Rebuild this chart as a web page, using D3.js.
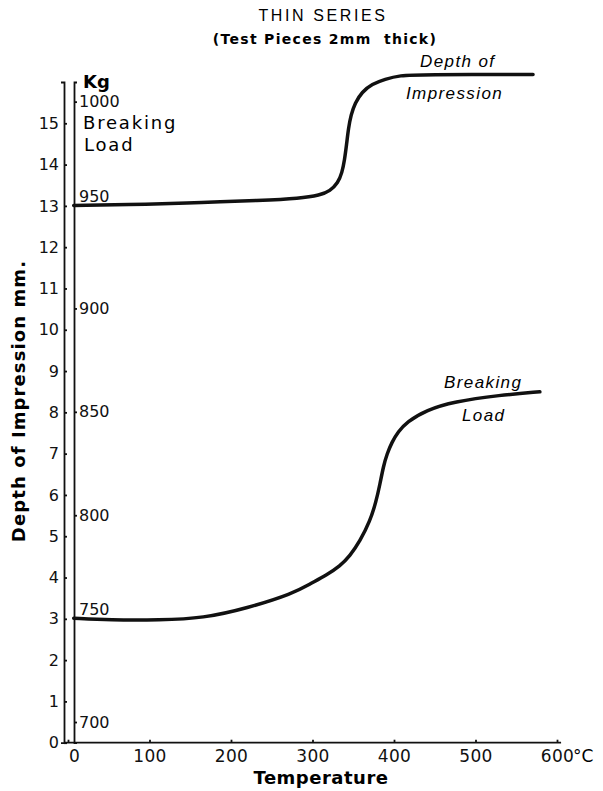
<!DOCTYPE html>
<html>
<head>
<meta charset="utf-8">
<script src="https://cdn.jsdelivr.net/npm/d3@7"></script>
<style>
  body { margin: 0; background: #fff; }
  svg { display: block; }
  .tick text { font-family: "DejaVu Sans", sans-serif; font-size: 16px; fill: #111; }
  .tick line, .domain { stroke: #111; stroke-width: 1.8; }
</style>
</head>
<body>
<figure id="chart" style="margin:0"></figure>
<script>
// temperature (deg C)
const depthTemps  = [7, 100.6, 162, 235.6, 284.7, 309.2, 321.5, 331.3, 336.2, 339.3, 341.7, 344.2, 347.2, 352.1, 360.7, 373, 388.9, 407.4, 431.9, 570.6];
const depthValues = [13.01, 13.04, 13.08, 13.13, 13.18, 13.26, 13.36, 13.56, 13.80, 14.11, 14.47, 14.89, 15.20, 15.49, 15.76, 15.95, 16.07, 16.16, 16.18, 16.18];

const loadTemps  = [7, 51.5, 112.9, 166, 219.3, 276.4, 296.9, 317.4, 333.7, 346, 358.3, 370.6, 377.9, 382.8, 387.1, 391.4, 397.5, 404.9, 415.6, 440.1, 472.8, 530, 579];
const loadValues = [750.2, 749.3, 749.3, 750.2, 755, 762.2, 766.8, 771.1, 775.4, 780.3, 787.5, 797.2, 806.4, 815.1, 823.8, 829.6, 835.4, 840.2, 845.1, 850.9, 854.9, 858.1, 859.7];

const tempTicks  = [0, 100, 200, 300, 400, 500, 600];
const depthTicks = [0, 1, 2, 3, 4, 5, 6, 7, 8, 9, 10, 11, 12, 13, 14, 15];
const loadTicks  = [700, 750, 800, 850, 900, 950, 1000];

let dims = { width: 603, height: 791, top: 82, bottom: 742.7, depthX: 64, loadX: 74 };

const svg = d3.select("#chart").append("svg")
    .attr("width", dims.width)
    .attr("height", dims.height);

const xScale = d3.scaleLinear().domain([0, 600]).range([68, 557]);
const yDepth = d3.scaleLinear().domain([0, 16]).range([dims.bottom, dims.top]);
const yLoad  = d3.scaleLinear().domain([690, 1009.5]).range([dims.bottom, dims.top]);

// titles
svg.append("text")
    .attr("x", 323).attr("y", 21)
    .attr("text-anchor", "middle")
    .style("font-family", "Liberation Sans, sans-serif")
    .style("font-size", "16px")
    .style("letter-spacing", "2.6px")
    .text("THIN SERIES");

svg.append("text")
    .attr("x", 325).attr("y", 44)
    .attr("text-anchor", "middle")
    .style("font-family", "DejaVu Sans, sans-serif")
    .style("font-weight", "bold")
    .style("font-size", "14px")
    .style("letter-spacing", "1.3px")
    .style("white-space", "pre")
    .text("(Test Pieces 2mm  thick)");

// x axis line
svg.append("line")
    .attr("x1", dims.depthX).attr("x2", xScale(605))
    .attr("y1", dims.bottom).attr("y2", dims.bottom)
    .attr("stroke", "#111").attr("stroke-width", 1.8);

const xAxis = svg.append("g")
    .attr("transform", `translate(0, ${dims.bottom})`)
    .call(d3.axisBottom(xScale).tickValues(tempTicks).tickSizeInner(-3).tickSizeOuter(0).tickPadding(7));
xAxis.select(".domain").remove();
xAxis.selectAll(".tick text").style("font-size", "17px").style("letter-spacing", "0.3px");
xAxis.selectAll(".tick").filter(d => d === 0).select("text").attr("dx", 6);

svg.append("text")
    .attr("x", xScale(600) + 16).attr("y", dims.bottom + 19.5)
    .style("font-family", "DejaVu Sans, sans-serif")
    .style("font-size", "17px")
    .text("°C");

svg.append("text")
    .attr("x", 321).attr("y", 784)
    .attr("text-anchor", "middle")
    .style("font-family", "DejaVu Sans, sans-serif")
    .style("font-weight", "bold")
    .style("font-size", "18px")
    .style("letter-spacing", "0.5px")
    .text("Temperature");

// depth axis
svg.append("g")
    .attr("transform", `translate(${dims.depthX}, 0)`)
    .call(d3.axisLeft(yDepth).tickValues(depthTicks).tickSizeInner(-3).tickSizeOuter(3).tickPadding(5));

svg.append("text")
    .attr("transform", `translate(25, 401) rotate(-90)`)
    .attr("text-anchor", "middle")
    .style("font-family", "DejaVu Sans, sans-serif")
    .style("font-weight", "bold")
    .style("font-size", "18px")
    .style("letter-spacing", "1.1px")
    .text("Depth of Impression mm.");

// load axis
const loadAxis = svg.append("g")
    .attr("transform", `translate(${dims.loadX}, 0)`)
    .call(d3.axisRight(yLoad).tickValues(loadTicks).tickFormat(d3.format("d"))
        .tickSizeInner(3).tickSizeOuter(3).tickPadding(2));
loadAxis.selectAll(".tick").filter(d => d === 950 || d === 750).select("text").attr("dy", "-0.25em");

svg.append("text")
    .attr("x", 83).attr("y", 88)
    .style("font-family", "DejaVu Sans, sans-serif")
    .style("font-weight", "bold")
    .style("font-size", "18px")
    .text("Kg");

svg.append("text")
    .attr("x", 83).attr("y", 129)
    .style("font-family", "DejaVu Sans, sans-serif")
    .style("font-size", "18px")
    .style("letter-spacing", "1.8px")
    .text("Breaking");

svg.append("text")
    .attr("x", 84).attr("y", 151)
    .style("font-family", "DejaVu Sans, sans-serif")
    .style("font-size", "18px")
    .style("letter-spacing", "1.8px")
    .text("Load");

// curves
const depthLine = d3.line()
    .x((d, i) => xScale(depthTemps[i]))
    .y(d => yDepth(d))
    .curve(d3.curveBasis);

const loadLine = d3.line()
    .x((d, i) => xScale(loadTemps[i]))
    .y(d => yLoad(d))
    .curve(d3.curveBasis);

svg.append("path")
    .attr("d", depthLine(depthValues))
    .attr("fill", "none")
    .attr("stroke", "#111")
    .attr("stroke-width", 3.5)
    .attr("stroke-linecap", "round");

svg.append("path")
    .attr("d", loadLine(loadValues))
    .attr("fill", "none")
    .attr("stroke", "#111")
    .attr("stroke-width", 3.5)
    .attr("stroke-linecap", "round");

// curve labels
const italic = (sel) => sel
    .style("font-family", "Liberation Sans, sans-serif")
    .style("font-style", "italic")
    .style("font-size", "17px")
    .style("letter-spacing", "1.4px");

svg.append("text").attr("x", 420).attr("y", 67).call(italic).text("Depth of");
svg.append("text").attr("x", 406).attr("y", 99).call(italic).text("Impression");
svg.append("text").attr("x", 444).attr("y", 388).call(italic).text("Breaking");
svg.append("text").attr("x", 462).attr("y", 421).call(italic).text("Load");
</script>
</body>
</html>
